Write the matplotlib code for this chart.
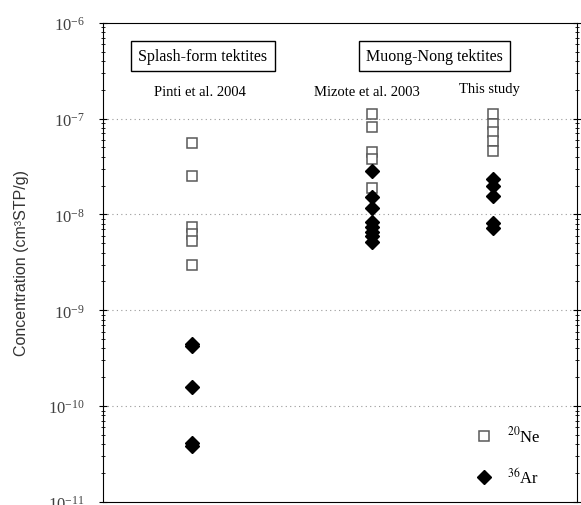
import numpy as np
import matplotlib
matplotlib.use("Agg")
import matplotlib.pyplot as plt
from matplotlib.ticker import LogLocator, NullFormatter

plt.rcParams["font.family"] = ["Liberation Serif", "DejaVu Serif"]
plt.rcParams["mathtext.fontset"] = "stix"

# === Daten ===
gruppen = ["Pinti et al. 2004", "Mizote et al. 2003", "This study"]
gruppen_x = [0.188, 0.567, 0.823]

ne20_pinti = [5.6e-8, 2.5e-8, 7.4e-9, 6.3e-9, 5.3e-9, 3.0e-9]
ar36_pinti = [4.5e-10, 4.2e-10, 1.6e-10, 4.1e-11, 3.8e-11]

ne20_mizote = [1.12e-7, 8.2e-8, 4.5e-8, 3.8e-8, 1.9e-8]
ar36_mizote = [2.85e-8, 1.53e-8, 1.17e-8, 8.4e-9, 7.4e-9, 6.6e-9, 5.9e-9, 5.2e-9]

ne20_study = [1.12e-7, 8.8e-8, 7.3e-8, 5.9e-8, 4.6e-8]
ar36_study = [2.35e-8, 2.0e-8, 1.56e-8, 8.2e-9, 7.3e-9]

ne20 = [ne20_pinti, ne20_mizote, ne20_study]
ar36 = [ar36_pinti, ar36_mizote, ar36_study]

# === Plot ===
fig = plt.figure(figsize=(5.81, 5.06), dpi=100)
ax = fig.add_axes([0.177, 0.006, 0.816, 0.947])

for i, (x, ne, ar) in enumerate(zip(gruppen_x, ne20, ar36)):
    ax.plot([x] * len(ne), ne, ls="none", marker="s", ms=6.5, mfc="white",
            mec="0.35", mew=1.1, label=r"$^{20}$Ne" if i == 0 else None)
    ax.plot([x] * len(ar), ar, ls="none", marker="D", ms=7, mfc="black",
            mec="black", label=r"$^{36}$Ar" if i == 0 else None)

ax.set_yscale("log")
ax.set_ylim(1e-11, 1e-6)
ax.set_xlim(0, 1)
ax.set_xticks([])
ax.yaxis.set_major_locator(LogLocator(base=10, numticks=10))
ax.yaxis.set_minor_locator(LogLocator(base=10, subs=np.arange(2, 10), numticks=10))
ax.yaxis.set_minor_formatter(NullFormatter())
ax.tick_params(axis="y", which="both", direction="inout", right=True, labelsize=12,
               labelcolor="0.25")
ax.tick_params(axis="y", which="major", length=6, pad=10)
ax.tick_params(axis="y", which="minor", length=3)

for yv in [1e-10, 1e-9, 1e-8, 1e-7]:
    ax.axhline(yv, color="0.6", lw=0.8, ls=(0, (1, 3)), zorder=0)

ax.set_ylabel("Concentration (cm³STP/g)", family="Liberation Sans", fontsize=11.5,
              color="0.2")
ax.yaxis.set_label_coords(-0.155, 0.5)

box = dict(boxstyle="square,pad=0.45", fc="white", ec="black", lw=1)
ax.text(0.211, 0.931, "Splash-form tektites", transform=ax.transAxes,
        ha="center", va="center", fontsize=11.5, bbox=box)
ax.text(0.70, 0.931, "Muong-Nong tektites", transform=ax.transAxes,
        ha="center", va="center", fontsize=11.5, bbox=box)
ax.text(0.205, 0.856, gruppen[0], transform=ax.transAxes, ha="center", va="center", fontsize=10.5)
ax.text(0.557, 0.856, gruppen[1], transform=ax.transAxes, ha="center", va="center", fontsize=10.5)
ax.text(0.816, 0.862, gruppen[2], transform=ax.transAxes, ha="center", va="center", fontsize=10.5)

ax.legend(loc="lower right", bbox_to_anchor=(0.955, 0.0), frameon=False, fontsize=12,
          labelspacing=1.3, handletextpad=0.4)

fig.savefig("out.png", dpi=100)
